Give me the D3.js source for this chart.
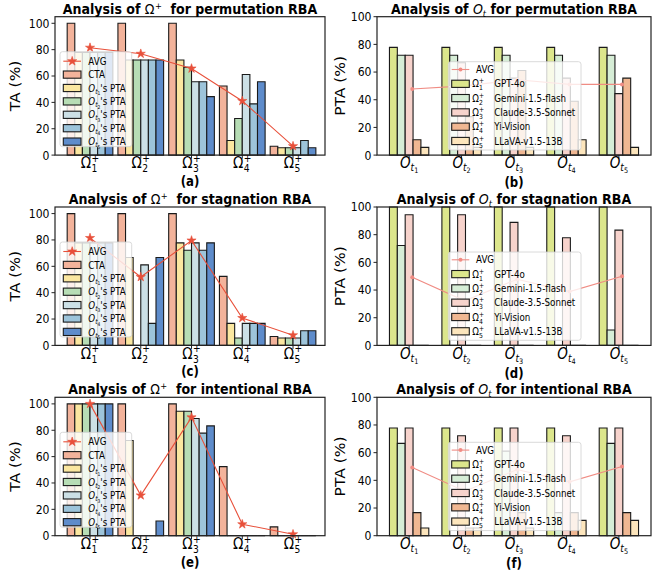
<!DOCTYPE html>
<html><head><meta charset="utf-8">
<script src="https://cdn.jsdelivr.net/npm/d3@7"></script>
<style>body{margin:0;background:#fff}svg{display:block}text{font-family:"DejaVu Sans";white-space:pre}</style>
</head><body>
<script>
// ---------- DATA ----------
const omegaSubs = ["1","2","3","4","5"];
const otSubs = ["1","2","3","4","5"];
const models = ["GPT-4o","Gemini-1.5-flash","Claude-3.5-Sonnet","Yi-Vision","LLaVA-v1.5-13B"];
const yTicks = [0,20,40,60,80,100];

// (a) permutation: CTA per Omega, PTA rows = O_t1..O_t5, cols = Omega1..5
const permCTA = [100,100,100,52.4,6.7];
const permPTA = [
  [77.8,72.2,72.2,11.1,5.6],
  [77.8,72.2,66.7,27.8,5.6],
  [77.8,72.2,55.6,61.1,5.6],
  [77.8,72.2,55.6,38.9,11.1],
  [77.8,72.2,44.4,55.6,5.6]];
const permAVG = [81.5,76.9,65.7,41.1,6.8];
// (b) rows = models, cols = O_t1..5
const permModel = [
  [77.8,77.8,77.8,77.8,77.8],
  [72.2,72.2,72.2,72.2,72.2],
  [72.2,66.7,55.6,55.6,44.4],
  [11.1,27.8,61.1,38.9,55.6],
  [5.6,5.6,5.6,11.1,5.6]];
const permOtAVG = [47.8,50.0,54.4,51.1,51.1];

// (c) stagnation
const stagCTA = [100,100,100,52.4,6.7];
const stagPTA = [
  [77.8,66.7,77.8,16.7,5.6],
  [77.8,0,72.2,5.6,5.6],
  [77.8,61.1,77.8,16.7,5.6],
  [77.8,16.7,72.2,16.7,11.1],
  [77.8,66.7,77.8,16.7,11.1]];
const stagAVG = [81.5,51.9,79.6,20.8,7.7];
// (d)
const stagModel = [
  [100,100,100,100,100],
  [72.2,0,0,0,11.1],
  [94.4,94.4,88.9,77.8,83.3],
  [0,0,0,0,0],
  [0,0,0,0,0]];
const stagOtAVG = [49.2,32.2,47.8,38.9,50.0];

// (e) intentional
const intCTA = [100,100,100,52.4,6.7];
const intPTA = [
  [100,72.2,94.4,0,0],
  [100,0,94.4,0,0],
  [100,0,88.9,0,0],
  [100,0,77.8,0,0],
  [100,11.1,83.3,0,0]];
const intAVG = [100,30.6,89.8,8.7,1.1];
// (f)
const intModel = [
  [77.8,77.8,77.8,77.8,77.8],
  [66.7,0,61.1,16.7,66.7],
  [77.8,72.2,77.8,72.2,77.8],
  [16.7,5.6,16.7,16.7,16.7],
  [5.6,5.6,5.6,11.1,11.1]];
const intOtAVG = [49.2,32.2,47.8,38.9,50.0];

// ---------- STYLE ----------
const SX = 0.87;
const leftColors = ["#F3B39B","#FBE7A0","#B7DDB5","#CCE0E6","#9DC4DA","#5E8CCB"];
const rightColors = ["#DCE68C","#D6EDD6","#F7D3CC","#F0B792","#FCE5BC"];
const avgRed = "#E8503A", avgPink = "#F08C84";
const STAR = 26;

const svg = d3.select("body").append("svg").attr("width",670).attr("height",575);

function rich(parent, x, y, items, anchor, pre) {
  const g = parent.append("g").attr("transform", `translate(${x},${y}) scale(${SX},1) ${pre||""}`);
  const inner = g.append("g");
  let cursor = 0, prevStart = 0;
  items.forEach(it => {
    const t = inner.append("text").attr("font-size", it.size).attr("xml:space","preserve")
      .attr("font-weight", it.bold ? "bold" : "normal")
      .attr("font-style", it.italic ? "italic" : "normal")
      .attr("fill", "#000").text(it.t);
    const w = t.node().getComputedTextLength();
    const sx = it.stack ? prevStart : cursor + (it.dx || 0);
    t.attr("x", sx).attr("y", it.dy || 0);
    prevStart = sx;
    cursor = Math.max(cursor, sx + w);
  });
  const off = anchor === "middle" ? -cursor/2 : anchor === "end" ? -cursor : 0;
  inner.attr("transform", `translate(${off},0)`);
  return g;
}

function barPath(x0, w, yTop, yBase) {
  return `M${x0},${yBase}V${yTop}H${x0+w}V${yBase}Z`;
}

function axesCommon(g, x, y, top, h, x0, x1, ylab, labX) {
  yTicks.forEach(v => {
    g.append("line").attr("x1", x0-3.5).attr("x2", x0).attr("y1", y(v)).attr("y2", y(v)).attr("stroke","#222").attr("stroke-width",1);
    rich(g, x0-5.5, y(v)+4.4, [{t:String(v), size:12.5}], "end");
  });
  rich(g, labX, top + h/2, [{t:ylab, size:15.5}], "middle", "rotate(-90)");
}

const H = 138.4;
function leftPanel(top, titleWord, letter, cta, pta, avg) {
  const g = svg.append("g");
  const x0 = 55, x1 = 325;
  const x = d3.scaleLinear().domain([-0.69, 4.63]).range([x0, x1]);
  const y = d3.scaleLinear().domain([0, 105]).range([top + H, top]);
  const bw = 0.15;
  const series = [cta].concat(pta);
  series.forEach((vals, i) => {
    g.selectAll(null).data(vals).join("path")
      .attr("d", (v, j) => barPath(x(j + (i-3)*bw), x(bw)-x(0), y(v), y(0)))
      .attr("fill", leftColors[i]).attr("stroke", "#1a1a1a").attr("stroke-width", 1.1);
  });
  const line = d3.line().x((v,j) => x(j)).y(v => y(v));
  g.append("path").attr("d", line(avg)).attr("fill","none").attr("stroke",avgRed).attr("stroke-width",1.1);
  g.selectAll(null).data(avg).join("path")
    .attr("d", d3.symbol(d3.symbolStar, STAR))
    .attr("transform", (v,j) => `translate(${x(j)},${y(v)})`)
    .attr("fill", avgRed).attr("stroke", avgRed).attr("stroke-width",0.6);
  g.append("rect").attr("x",x0).attr("y",top).attr("width",x1-x0).attr("height",H).attr("fill","none").attr("stroke","#222").attr("stroke-width",1.2);
  axesCommon(g, x, y, top, H, x0, x1, "TA (%)", 20);
  omegaSubs.forEach((s,j) => {
    g.append("line").attr("x1",x(j)).attr("x2",x(j)).attr("y1",top+H).attr("y2",top+H+3.5).attr("stroke","#222");
    rich(g, x(j), top+H+13.3, [{t:"Ω",size:15.5},{t:"+",size:10.5,dy:-6.5,dx:0.5},{t:s,size:10.5,dy:4,stack:true}], "middle");
  });
  rich(g, (x0+x1)/2, top-3.2, [{t:"Analysis of ",size:14.5,bold:true},{t:"Ω",size:14.5},{t:"+",size:9.5,dy:-5,dx:0.5},{t:"  for "+titleWord+" RBA",size:14.5,bold:true}], "middle");
  rich(g, (x0+x1)/2, top+H+31, [{t:"("+letter+")",size:13.5,bold:true}], "middle");
  const lx = 60, ly = top + 35;
  g.append("rect").attr("x",lx).attr("y",ly).attr("width",71.7).attr("height",95).attr("rx",2.5)
    .attr("fill","#fff").attr("fill-opacity",0.8).attr("stroke","#d0d0d0").attr("stroke-width",0.8);
  const step = 13.4;
  for (let k = 0; k < 7; k++) {
    const cy = ly + 9.5 + k*step;
    if (k === 0) {
      g.append("line").attr("x1",63.3).attr("x2",81).attr("y1",cy).attr("y2",cy).attr("stroke",avgRed).attr("stroke-width",1.1);
      g.append("path").attr("d", d3.symbol(d3.symbolStar, STAR)).attr("transform",`translate(72.2,${cy})`).attr("fill",avgRed).attr("stroke",avgRed).attr("stroke-width",0.6);
      rich(g, 88.3, cy+3.6, [{t:"AVG",size:10}], "start");
    } else {
      g.append("rect").attr("x",63.3).attr("y",cy-3.6).attr("width",17.7).attr("height",7.2)
        .attr("fill",leftColors[k-1]).attr("stroke","#1a1a1a").attr("stroke-width",1.1);
      if (k === 1) rich(g, 88.3, cy+3.6, [{t:"CTA",size:10}], "start");
      else rich(g, 88.3, cy+3.6, [{t:"O",size:10,italic:true},{t:"t",size:7,italic:true,dy:2},{t:otSubs[k-2],size:5,dy:3.5},{t:"'s PTA",size:10}], "start");
    }
  }
}

function rightPanel(top, titleWord, letter, vals, avg) {
  const g = svg.append("g");
  const x0 = 377, x1 = 651;
  const x = d3.scaleLinear().domain([-0.6125, 4.6125]).range([x0, x1]);
  const y = d3.scaleLinear().domain([0, 100]).range([top + H, top]);
  const bw = 0.15;
  vals.forEach((row, i) => {
    g.selectAll(null).data(row).join("path")
      .attr("d", (v, j) => barPath(x(j + (i-2.5)*bw), x(bw)-x(0), y(v), y(0)))
      .attr("fill", rightColors[i]).attr("stroke", "#1a1a1a").attr("stroke-width", 1.1);
  });
  const line = d3.line().x((v,j) => x(j+0.06)).y(v => y(v));
  g.append("path").attr("d", line(avg)).attr("fill","none").attr("stroke",avgPink).attr("stroke-width",1.1);
  g.selectAll(null).data(avg).join("circle").attr("cx",(v,j)=>x(j+0.06)).attr("cy",v=>y(v)).attr("r",2).attr("fill",avgPink);
  g.append("rect").attr("x",x0).attr("y",top).attr("width",x1-x0).attr("height",H).attr("fill","none").attr("stroke","#222").attr("stroke-width",1.2);
  axesCommon(g, x, y, top, H, x0, x1, "PTA (%)", 345);
  otSubs.forEach((s,j) => {
    g.append("line").attr("x1",x(j)).attr("x2",x(j)).attr("y1",top+H).attr("y2",top+H+3.5).attr("stroke","#222");
    rich(g, x(j), top+H+13.3, [{t:"O",size:15.5,italic:true},{t:"t",size:10.5,italic:true,dy:3},{t:s,size:7.5,dy:4.8}], "middle");
  });
  rich(g, (x0+x1)/2, top-3.2, [{t:"Analysis of ",size:14.5,bold:true},{t:"O",size:14.5,italic:true},{t:"t",size:9.5,italic:true,dy:3},{t:" for "+titleWord+" RBA",size:14.5,bold:true}], "middle");
  rich(g, (x0+x1)/2, top+H+32.3, [{t:"("+letter+")",size:13.5,bold:true}], "middle");
  const lx = 448.3, ly = top + 45;
  g.append("rect").attr("x",lx).attr("y",ly).attr("width",132.7).attr("height",88.3).attr("rx",2.5)
    .attr("fill","#fff").attr("fill-opacity",0.8).attr("stroke","#d0d0d0").attr("stroke-width",0.8);
  const step = 14.3;
  for (let k = 0; k < 6; k++) {
    const cy = ly + 7.8 + k*step;
    if (k === 0) {
      g.append("line").attr("x1",451.7).attr("x2",469.3).attr("y1",cy).attr("y2",cy).attr("stroke",avgPink).attr("stroke-width",1.1);
      g.append("circle").attr("cx",460.5).attr("cy",cy).attr("r",2).attr("fill",avgPink);
      rich(g, 476, cy+3.6, [{t:"AVG",size:10}], "start");
    } else {
      g.append("rect").attr("x",451.7).attr("y",cy-3.6).attr("width",17.6).attr("height",7.2)
        .attr("fill",rightColors[k-1]).attr("stroke","#1a1a1a").attr("stroke-width",1.1);
      rich(g, 472.3, cy+3.6, [{t:"Ω",size:10},{t:"+",size:7,dy:-4},{t:omegaSubs[k-1],size:7,dy:3,stack:true}], "start");
      rich(g, 494.3, cy+3.6, [{t:models[k-1],size:10}], "start");
    }
  }
}

const rowTops = [16.7, 207.0, 397.3];
leftPanel(rowTops[0], "permutation", "a", permCTA, permPTA, permAVG);
rightPanel(rowTops[0], "permutation", "b", permModel, permOtAVG);
leftPanel(rowTops[1], "stagnation", "c", stagCTA, stagPTA, stagAVG);
rightPanel(rowTops[1], "stagnation", "d", stagModel, stagOtAVG);
leftPanel(rowTops[2], "intentional", "e", intCTA, intPTA, intAVG);
rightPanel(rowTops[2], "intentional", "f", intModel, intOtAVG);
</script>
</body></html>
